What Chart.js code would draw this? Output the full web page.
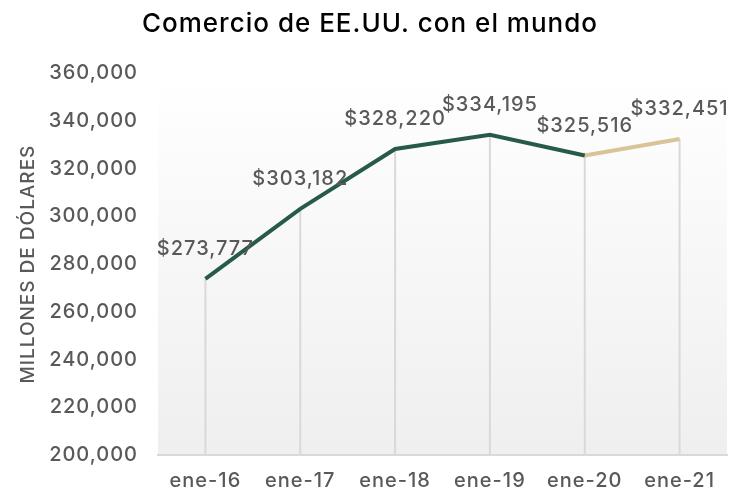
<!DOCTYPE html>
<html>
<head>
<meta charset="utf-8">
<script src="https://cdn.jsdelivr.net/npm/chart.js@4"></script>
<style>
  html, body { margin: 0; padding: 0; background: #fff; }
  #wrap { width: 739px; height: 492px; }
</style>
</head>
<body>
<div id="wrap"><canvas id="chart"></canvas></div>
<script>
// ── Data ──
const categories = ['ene-16', 'ene-17', 'ene-18', 'ene-19', 'ene-20', 'ene-21'];
const tradeValues = [273777, 303182, 328220, 334195, 325516, 332451];
const actualValues = [273777, 303182, 328220, 334195, 325516, null];
const latestValues = [null, null, null, null, 325516, 332451];

const FONT = 'Inter';
const GREY = '#595959';
const fmtNum = v => v.toLocaleString('en-US');

// ── Plugins ──
// wider tracking to get closer to the reference's geometric font
const tracking = {
    id: 'tracking',
    beforeLayout(chart) { chart.ctx.letterSpacing = '1px'; },
    beforeDraw(chart) { chart.ctx.letterSpacing = '1px'; }
};

const plotBg = {
    id: 'plotBg',
    beforeDraw(chart) {
        const { ctx, chartArea: a } = chart;
        const g = ctx.createLinearGradient(0, a.top, 0, a.bottom);
        g.addColorStop(0, '#ffffff');
        g.addColorStop(1, '#efefef');
        ctx.save();
        ctx.fillStyle = g;
        ctx.fillRect(a.left, a.top, a.right - a.left, a.bottom - a.top);
        ctx.restore();
    }
};

const dropLines = {
    id: 'dropLines',
    beforeDatasetsDraw(chart) {
        const { ctx, scales: { x, y } } = chart;
        ctx.save();
        ctx.strokeStyle = '#d9d9d9';
        ctx.lineWidth = 2;
        tradeValues.forEach((v, i) => {
            const px = x.getPixelForValue(i);
            ctx.beginPath();
            ctx.moveTo(px, y.getPixelForValue(v));
            ctx.lineTo(px, y.bottom);
            ctx.stroke();
        });
        ctx.restore();
    }
};

const valueLabels = {
    id: 'valueLabels',
    afterDatasetsDraw(chart) {
        const { ctx, scales: { x, y } } = chart;
        ctx.save();
        ctx.font = `500 20px "${FONT}"`;
        ctx.fillStyle = GREY;
        ctx.textAlign = 'center';
        ctx.textBaseline = 'middle';
        tradeValues.forEach((v, i) => {
            ctx.fillText('$' + fmtNum(v), x.getPixelForValue(i), y.getPixelForValue(v) - 30);
        });
        ctx.restore();
    }
};

// ── Chart ──
new Chart(document.getElementById('chart'), {
    type: 'line',
    data: {
        labels: categories,
        datasets: [{
            label: 'Comercio',
            data: actualValues,
            borderColor: '#275b48', borderWidth: 4,
            pointRadius: 0, tension: 0, spanGaps: false
        }, {
            label: 'Último',
            data: latestValues,
            borderColor: '#d8c498', borderWidth: 4,
            pointRadius: 0, tension: 0, spanGaps: false
        }]
    },
    options: {
        responsive: true, maintainAspectRatio: false, animation: false,
        layout: { padding: { left: 13, right: 12, top: 0, bottom: 0 } },
        scales: {
            x: {
                offset: true,
                grid: { display: false, offset: true },
                border: { color: '#d9d9d9', width: 2 },
                afterFit: s => { s.height = 37; },
                ticks: { color: GREY, font: { family: FONT, size: 20, weight: 500 }, padding: 6, maxRotation: 0 }
            },
            y: {
                min: 200000, max: 360000,
                grid: { display: false },
                border: { display: false },
                afterFit: s => { s.width = 145; },
                ticks: { stepSize: 20000, color: GREY, font: { family: FONT, size: 20, weight: 500 }, padding: 12,
                    callback: v => fmtNum(v) },
                title: { display: true, text: 'MILLONES DE DÓLARES', color: GREY,
                    font: { family: FONT, size: 19, weight: 500 }, padding: 4 }
            }
        },
        plugins: {
            legend: { display: false },
            tooltip: { enabled: false },
            title: { display: true, text: 'Comercio de EE.UU. con el mundo', color: '#000',
                font: { family: FONT, size: 26, weight: 500 }, padding: { top: 9, bottom: 33 } }
        }
    },
    plugins: [tracking, plotBg, dropLines, valueLabels]
});
</script>
</body>
</html>
